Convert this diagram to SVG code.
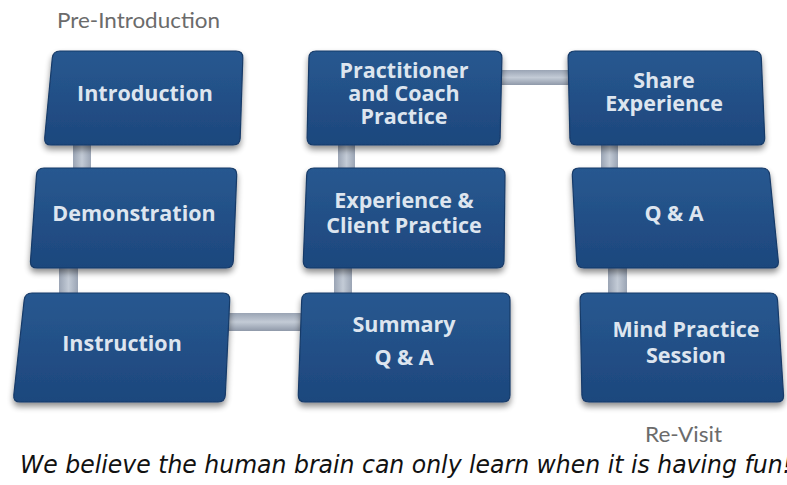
<svg xmlns="http://www.w3.org/2000/svg" width="787" height="485" viewBox="0 0 787 485">
<defs>
<linearGradient id="boxg" x1="0" y1="0" x2="0" y2="1">
<stop offset="0" stop-color="#285890"/>
<stop offset="1" stop-color="#1d477d"/>
</linearGradient>
<linearGradient id="conv" x1="0" y1="0" x2="1" y2="0">
<stop offset="0" stop-color="#9aa4b4"/>
<stop offset="0.5" stop-color="#c3cbd6"/>
<stop offset="1" stop-color="#9aa4b4"/>
</linearGradient>
<linearGradient id="conh" x1="0" y1="0" x2="0" y2="1">
<stop offset="0" stop-color="#9aa4b4"/>
<stop offset="0.5" stop-color="#c3cbd6"/>
<stop offset="1" stop-color="#8f99a9"/>
</linearGradient>
<filter id="sh" x="-10%" y="-10%" width="120%" height="130%">
<feGaussianBlur in="SourceAlpha" stdDeviation="3"/>
<feOffset dx="0" dy="4" result="b"/>
<feComponentTransfer><feFuncA type="linear" slope="0.45"/></feComponentTransfer>
<feMerge><feMergeNode/><feMergeNode in="SourceGraphic"/></feMerge>
</filter>
</defs>
<style>
.box{fill:url(#boxg);stroke:#163a68;stroke-width:1.2;filter:url(#sh)}
.lbl{font-family:"Open Sans","DejaVu Sans",sans-serif;font-weight:700;font-size:21.5px;fill:#dde5ef;text-anchor:middle}
.cv{fill:url(#conv)}
.ch{fill:url(#conh)}
.cap{font-family:"Lato","Open Sans",sans-serif;font-size:22px;fill:#6b6b6b}
.quote{font-family:"DejaVu Sans Condensed","DejaVu Sans",sans-serif;font-style:italic;font-size:24px;fill:#111}
</style>
<rect width="787" height="485" fill="#ffffff"/>
<text class="cap" x="57" y="28" textLength="163" lengthAdjust="spacingAndGlyphs">Pre-Introduction</text>
<g id="connectors">
<rect class="cv" x="73" y="140" width="18" height="32"/>
<rect class="cv" x="59" y="262" width="19" height="35"/>
<rect class="ch" x="226" y="313" width="76" height="18"/>
<rect class="cv" x="334" y="262" width="18" height="35"/>
<rect class="cv" x="338" y="140" width="17" height="32"/>
<rect class="ch" x="498" y="70" width="72" height="15"/>
<rect class="cv" x="601" y="140" width="17" height="32"/>
<rect class="cv" x="608" y="262" width="19" height="35"/>
</g>
<g id="introduction">
<path class="box" d="M60,51 L236,51 Q243,51 242.8,58 L240.2,138 Q240,145 233,145 L51,145 Q44,145 44.7,138 L52.3,58 Q53,51 60,51 Z"/>
<text class="lbl" x="145" y="101">Introduction</text>
</g>
<g id="demonstration">
<path class="box" d="M44,168 L230,168 Q237,168 236.7,175 L233.3,261 Q233,268 226,268 L37,268 Q30,268 30.5,261 L36.5,175 Q37,168 44,168 Z"/>
<text class="lbl" x="134" y="221">Demonstration</text>
</g>
<g id="instruction">
<path class="box" d="M32,293 L223,293 Q230,293 229.7,300 L225.3,395 Q225,402 218,402 L20,402 Q13,402 13.8,395 L24.2,300 Q25,293 32,293 Z"/>
<text class="lbl" x="122" y="351">Instruction</text>
</g>
<g id="practitioner">
<path class="box" d="M316,51 L495,51 Q502,51 501.9,58 L500.1,138 Q500,145 493,145 L314,145 Q307,145 307.1,138 L308.9,58 Q309,51 316,51 Z"/>
<text class="lbl" x="404" y="78">Practitioner</text>
<text class="lbl" x="404" y="101">and Coach</text>
<text class="lbl" x="404" y="124">Practice</text>
</g>
<g id="experience">
<path class="box" d="M314,168 L498,168 Q505,168 505,175 L504,261 Q504,268 497,268 L310,268 Q303,268 303.3,261 L306.7,175 Q307,168 314,168 Z"/>
<text class="lbl" x="404" y="208">Experience &amp;</text>
<text class="lbl" x="404" y="233">Client Practice</text>
</g>
<g id="summary">
<path class="box" d="M309,293 L503,293 Q510,293 510,300 L510,395 Q510,402 503,402 L305,402 Q298,402 298.3,395 L301.7,300 Q302,293 309,293 Z"/>
<text class="lbl" x="404" y="332">Summary</text>
<text class="lbl" x="404" y="365">Q &amp; A</text>
</g>
<g id="share">
<path class="box" d="M575,51 L754,51 Q761,51 761.3,58 L764.7,138 Q765,145 758,145 L577,145 Q570,145 569.9,138 L568.1,58 Q568,51 575,51 Z"/>
<text class="lbl" x="664" y="88">Share</text>
<text class="lbl" x="664" y="111">Experience</text>
</g>
<g id="qa">
<path class="box" d="M579,168 L762,168 Q769,168 769.7,175 L778.3,261 Q779,268 772,268 L584,268 Q577,268 576.7,261 L572.3,175 Q572,168 579,168 Z"/>
<text class="lbl" x="674" y="221">Q &amp; A</text>
</g>
<g id="mind">
<path class="box" d="M587,293 L770,293 Q777,293 777.5,300 L783.5,395 Q784,402 777,402 L589,402 Q582,402 581.9,395 L580.1,300 Q580,293 587,293 Z"/>
<text class="lbl" x="686" y="337">Mind Practice</text>
<text class="lbl" x="686" y="363">Session</text>
</g>
<text class="cap" x="645" y="442" textLength="77" lengthAdjust="spacingAndGlyphs">Re-Visit</text>
<text class="quote" x="20" y="473" textLength="772" lengthAdjust="spacingAndGlyphs">We believe the human brain can only learn when it is having fun!</text>
</svg>
